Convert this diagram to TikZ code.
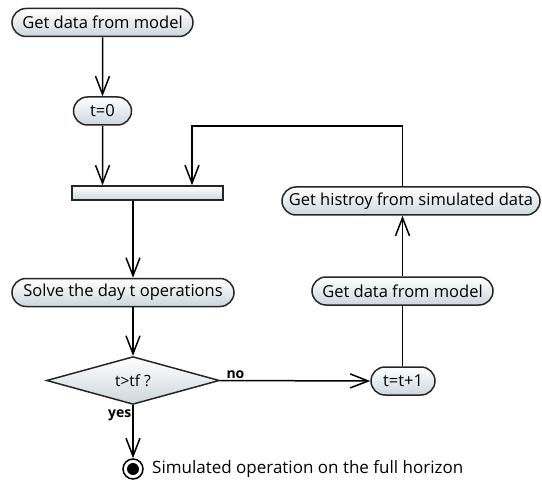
\documentclass[tikz,border=0pt]{standalone}
\usepackage{fontspec}
\setmainfont{Open Sans}
\usetikzlibrary{arrows.meta,shapes.misc,shapes.geometric}
\definecolor{nodebot}{RGB}{205,215,220}
\begin{document}
\begin{tikzpicture}[x=1pt,y=-1pt,
  act/.style={rounded rectangle, draw=black!85, line width=1.5pt, top color=white, bottom color=nodebot,
    inner sep=0pt, minimum height=28pt, font=\fontsize{16.5}{18}\selectfont},
  arr/.style={line width=1.5pt, -{Straight Barb[length=18pt,width=14pt,line width=1.5pt]}},
  ln/.style={line width=1.5pt},
  lbl/.style={font=\fontsize{14}{16}\selectfont\bfseries, inner sep=1pt}]
\useasboundingbox (0,0) rectangle (542,487);
\node[act, minimum width=181pt] (a) at (102.5,22.5) {Get data from model};
\node[act, minimum width=58pt] (b) at (102.5,111) {t=0};
\node[draw=black!85, line width=1.5pt, top color=white, bottom color=nodebot, minimum width=151pt, minimum height=14pt, inner sep=0pt] (bar) at (147.5,193) {};
\node[act, minimum width=222pt] (c) at (123,292.5) {Solve the day t operations};
\node[diamond, draw=black!85, line width=1.5pt, top color=white, bottom color=nodebot, minimum width=173pt, minimum height=29pt, inner sep=0pt, font=\fontsize{15.5}{17}\selectfont] (d) at (133,380.5) {t>tf ?};
\node[act, minimum width=64pt] (e) at (403,381) {t=t+1};
\node[act, minimum width=181pt] (f) at (402.5,291) {Get data from model};
\node[act, minimum width=258pt] (g) at (411,201) {Get histroy from simulated data};
\node[circle, draw=black, line width=1.5pt, minimum size=20pt, inner sep=0pt, fill=white] (fin) at (133,469) {};
\node[circle, fill=black, minimum size=12pt, inner sep=0pt] (fdot) at (fin) {};
\node[anchor=west, font=\fontsize{17}{19}\selectfont, inner sep=0pt] (ftxt) at (152,469) {Simulated operation on the full horizon};
\coordinate (lp) at (192,126);
\draw[arr] (a) -- (b);
\draw[arr] (b) -- (b |- bar.north);
\draw[arr] (bar.south -| d.north) -- (c.north -| d.north);
\draw[arr] (c.south -| d.north) -- (d.north);
\draw[arr] (d.south) -- node[lbl, pos=0.2, left] {yes} (fin.north);
\draw[arr] (d.east) -- node[lbl, pos=0.03, above right] {no} (e.west);
\draw[ln] (e.north -| f.south) -- (f.south);
\draw[arr] (f.north) -- (g.south -| f.north);
\draw[arr] (g.north -| f.north) |- (lp) -- (lp |- bar.north);
\end{tikzpicture}
\end{document}
